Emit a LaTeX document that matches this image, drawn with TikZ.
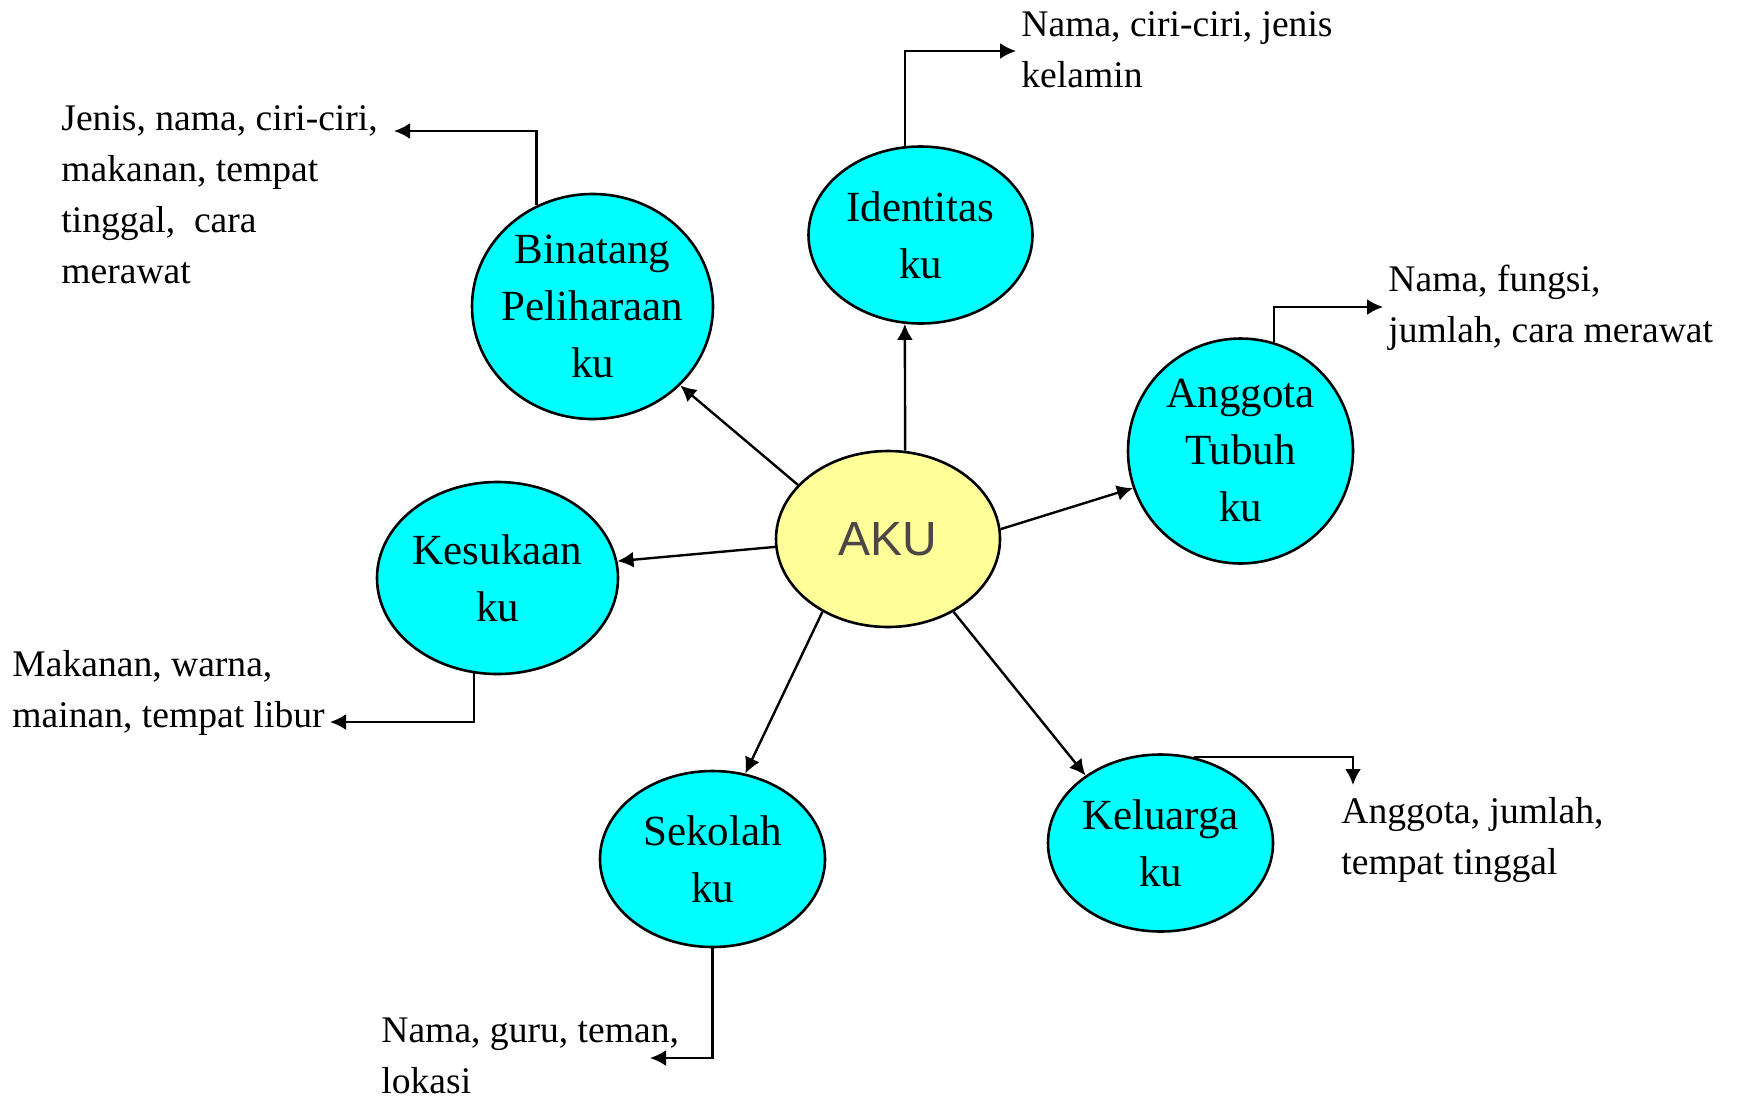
\documentclass[tikz,border=0pt]{standalone}
\usepackage{fontspec}
\setmainfont{Liberation Serif}
\newfontfamily\akufont{Liberation Sans}
\usepackage{tikz}
\usetikzlibrary{
  shapes.geometric,
  arrows.meta,
  positioning
}
\definecolor{topiccolor}{RGB}{0, 255, 255}
\definecolor{centercolor}{RGB}{255, 255, 153}
\definecolor{akutextcolor}{RGB}{77, 70, 70}
\tikzset{
topicblock/.style={
  ellipse,
  draw,
  line width=1.3pt,
  fill=topiccolor,
  inner xsep=-6pt,
  inner ysep=0pt,
  align=center,
  font=\fontsize{21.5}{28.5}\selectfont
},
centerblock/.style={
  ellipse,
  draw,
  line width=1.3pt,
  fill=centercolor,
  inner sep=0pt,
  minimum width=112pt,
  minimum height=88pt,
  font=\akufont\fontsize{24}{28}\selectfont,
  text=akutextcolor
},
notetext/.style={
  anchor=north west,
  inner sep=0pt,
  align=left,
  font=\fontsize{18.8}{25.5}\selectfont
},
arrow/.style={
  -{Latex[length=8pt,width=8pt]},
  line width=1.2pt
}
}

\begin{document}
\begin{tikzpicture}[x=0.5pt, y=-0.5pt]
  \useasboundingbox (0,0) rectangle (1739,1098);

  % centre
  \node[centerblock] (aku) at (888,539) {AKU};

  % topics
  \node[topicblock, minimum width=112pt, minimum height=88.5pt] (identitas) at (920.5,235) {Identitas\\ku};
  \node[topicblock, minimum width=120.5pt, minimum height=112.5pt] (binatang) at (592.5,306.5) {Binatang\\Peliharaan\\ku};
  \node[topicblock, minimum width=112.5pt, minimum height=112.5pt] (anggota) at (1240.5,451) {Anggota\\Tubuh\\ku};
  \node[topicblock, minimum width=120.5pt, minimum height=96pt] (kesukaan) at (497.5,578) {Kesukaan\\ku};
  \node[topicblock, minimum width=112.5pt, minimum height=88pt] (sekolah) at (712.5,859) {Sekolah\\ku};
  \node[topicblock, minimum width=112.5pt, minimum height=88.5pt] (keluarga) at (1160.5,843) {Keluarga\\ku};

  \draw[arrow] (aku.79) -- (identitas.260);
  \draw[arrow] (aku.149) -- (binatang.318);
  \draw[arrow] (aku.5) -- (anggota.199);
  \draw[arrow] (aku.184) -- (kesukaan.8);
  \draw[arrow] (aku.228) -- (sekolah.69);
  \draw[arrow] (aku.312) -- (keluarga.138);

  % notes
  \node[notetext] (idnote) at (1021,11) {Nama, ciri-ciri, jenis\\kelamin};
  \node[notetext] (petnote) at (61,105) {Jenis, nama, ciri-ciri,\\makanan, tempat\\tinggal, \ cara\\merawat};
  \node[notetext] (bodynote) at (1388,265) {Nama, fungsi,\\jumlah, cara merawat};
  \node[notetext] (likenote) at (12,650) {Makanan, warna,\\mainan, tempat libur};
  \node[notetext] (schoolnote) at (381,1017) {Nama, guru, teman,\\lokasi};
  \node[notetext] (famnote) at (1341,797) {Anggota, jumlah,\\tempat tinggal};

  \coordinate (idtip) at (1016,51);
  \coordinate (pettip) at (394,131);
  \coordinate (bodytip) at (1383,307);
  \coordinate (liketip) at (330,722);
  \coordinate (schooltip) at (650,1058);
  \coordinate (famtip) at (1353,785);

  \draw[arrow] (identitas.100) |- (idtip);
  \draw[arrow] (binatang.119) |- (pettip);
  \draw[arrow] (anggota.73) |- (bodytip);
  \draw[arrow] (kesukaan.256) |- (liketip);
  \draw[arrow] (sekolah.south) |- (schooltip);
  \draw[arrow] (keluarga.69) -| (famtip);
\end{tikzpicture}
\end{document}
